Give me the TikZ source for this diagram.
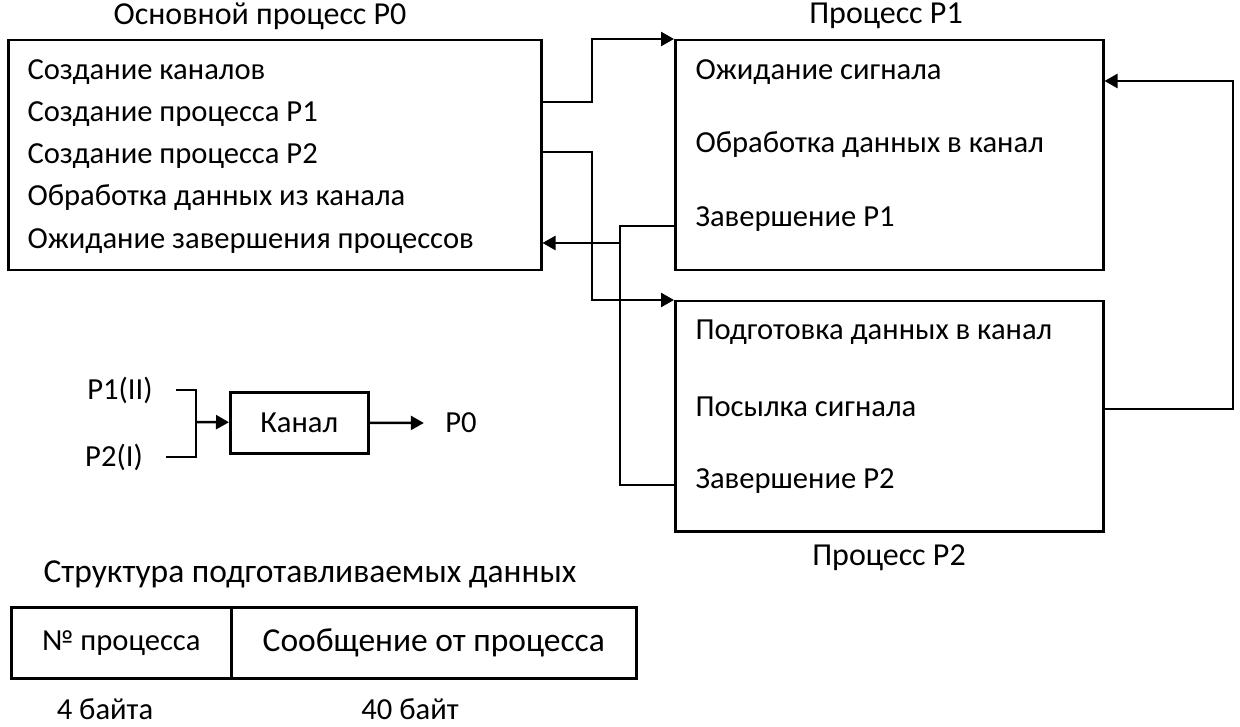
\documentclass[tikz,border=0pt]{standalone}
\usepackage{fontspec}
\setmainfont{Carlito}
\usetikzlibrary{arrows.meta}

\tikzset{
	box/.style={draw, line width=2.5pt, anchor=north west, inner sep=0pt},
	txt/.style={font=\fontsize{30.6}{36}\selectfont},
	ttl/.style={font=\fontsize{32}{38}\selectfont},
	big/.style={font=\fontsize{33.5}{40}\selectfont},
	item/.style={txt, anchor=west},
	conn/.style={line width=2.5pt},
	arr/.style={conn, -{Triangle[length=13pt,width=14pt]}}
}

\begin{document}
\begin{tikzpicture}[x=1pt,y=-1pt]
	\useasboundingbox (0,0) rectangle (1240,727);

	% boxes of the processes
	\node (p0) at (7,39) [box, minimum width=533pt, minimum height=230pt] {};
	\node (p1) at (674,39) [box, minimum width=428pt, minimum height=230pt] {};
	\node (p2) at (674,300) [box, minimum width=428pt, minimum height=230pt] {};

	\node (t0) at (260,16) [ttl] {Основной процесс P0};
	\node (t1) at (886,16) [ttl] {Процесс P1};
	\node (t2) at (889,558) [ttl] {Процесс P2};

	\node (a1) at (24,72) [item] {Создание каналов};
	\node (a2) at (24,114) [item] {Создание процесса P1};
	\node (a3) at (24,156) [item] {Создание процесса P2};
	\node (a4) at (24,198) [item] {Обработка данных из канала};
	\node (a5) at (24,241) [item] {Ожидание завершения процессов};

	\node (b1) at (692,72) [item] {Ожидание сигнала};
	\node (b2) at (692,145) [item] {Обработка данных в канал};
	\node (b3) at (692,219) [item] {Завершение P1};

	\node (c1) at (692,332) [item] {Подготовка данных в канал};
	\node (c2) at (692,407) [item] {Посылка сигнала};
	\node (c3) at (692,481) [item] {Завершение P2};

	% connections
	\coordinate (split) at (620,243);
	\draw[arr] (p0.east |- 0,102) -| (592,39) -- (p1.north west);
	\draw[arr] (p0.east |- 0,152) -| (592,300) -- (p2.north west);
	\draw[conn] (p1.west |- 0,226) -| (620,485) -- (p2.west |- 0,485);
	\draw[arr] (split) -- (p0.east |- split);
	\draw[arr] (p2.east |- 0,409) -| (1233,81) -- (p1.east |- 0,81);

	% channel
	\node (chan) at (229,391) [box, txt, minimum width=138pt, minimum height=61pt, anchor=north west] {Канал};
	\node (in1) at (120,390) [txt] {P1(II)};
	\node (in2) at (114,457) [txt] {P2(I)};
	\node (out) at (461,423) [txt] {P0};
	\coordinate (join) at (196,422);
	\draw[conn] ([xshift=20pt]in1.east) -| (join);
	\draw[conn] ([xshift=20pt]in2.east) -| (join);
	\draw[arr] (join) -- (chan);
	\draw[arr] (chan.east) -- ([xshift=-18pt]out.west);

	% data structure
	\node (s) at (310,574) [big] {Структура подготавливаемых данных};
	\node (num) at (10,606) [box, txt, minimum width=220pt, minimum height=71pt] {№ процесса};
	\node (msg) at (230,606) [box, big, minimum width=405pt, minimum height=71pt] {Сообщение от процесса};
	\node (n1) at (105,709) [txt] {4 байта};
	\node (n2) at (410,709) [txt] {40 байт};
\end{tikzpicture}
\end{document}
